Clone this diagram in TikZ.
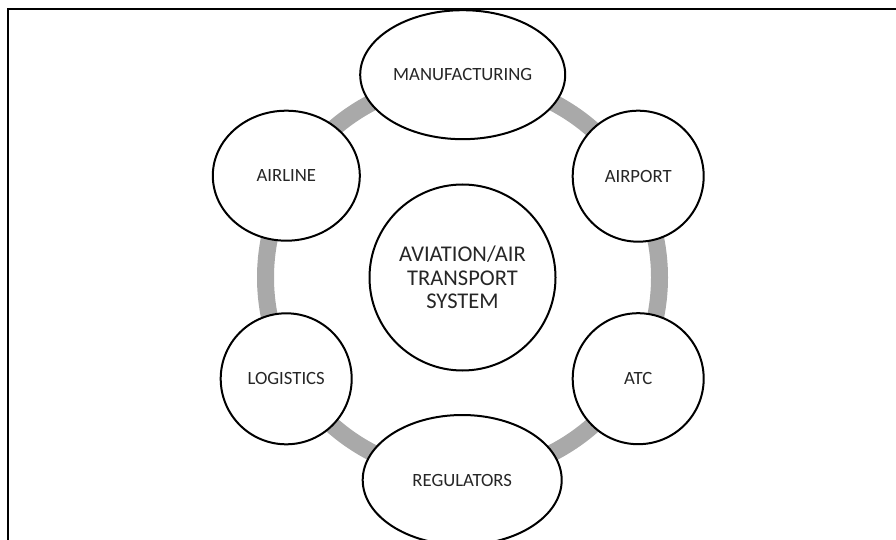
\documentclass[tikz,border=0pt]{standalone}
\usepackage{fontspec}
\setmainfont{Carlito}
\usetikzlibrary{shapes.geometric}
\definecolor{ringgray}{RGB}{169,169,169}
\tikzset{
  every node/.style={font=\fontsize{18.7}{22}\selectfont, text=black!85},
  bubble/.style={ellipse, draw=black, line width=2pt, fill=white, inner sep=0pt, align=center},
  ring/.style={draw=ringgray, line width=17pt},
  frame/.style={draw=black, line width=2pt}
}
\begin{document}
\begin{tikzpicture}[x=1pt, y=-1pt]
\useasboundingbox (0,0) rectangle (896,540);
\clip (0,0) rectangle (896,540);
\draw[frame] (8,560) -- (8,9.5) -- (910,9.5);
\coordinate (mid) at (462.5,277.5);
\draw[ring] (mid) circle (197);
\node[bubble, minimum width=186, minimum height=186, font=\fontsize{22.5}{23.7}\selectfont] (sys) at (mid) {AVIATION/AIR\\TRANSPORT\\SYSTEM};
\node[bubble, minimum width=205, minimum height=129] (manu) at (462.7,74.7) {MANUFACTURING};
\node[bubble, minimum width=131, minimum height=131] (airport) at (638.2,176.2) {AIRPORT};
\node[bubble, minimum width=131, minimum height=131] (atc) at (638.2,378.7) {ATC};
\node[bubble, minimum width=199, minimum height=130] (reg) at (462.2,480) {REGULATORS};
\node[bubble, minimum width=131, minimum height=131] (log) at (286.2,378.8) {LOGISTICS};
\node[bubble, minimum width=147, minimum height=130] (airline) at (286.3,175.7) {AIRLINE};
\end{tikzpicture}
\end{document}
